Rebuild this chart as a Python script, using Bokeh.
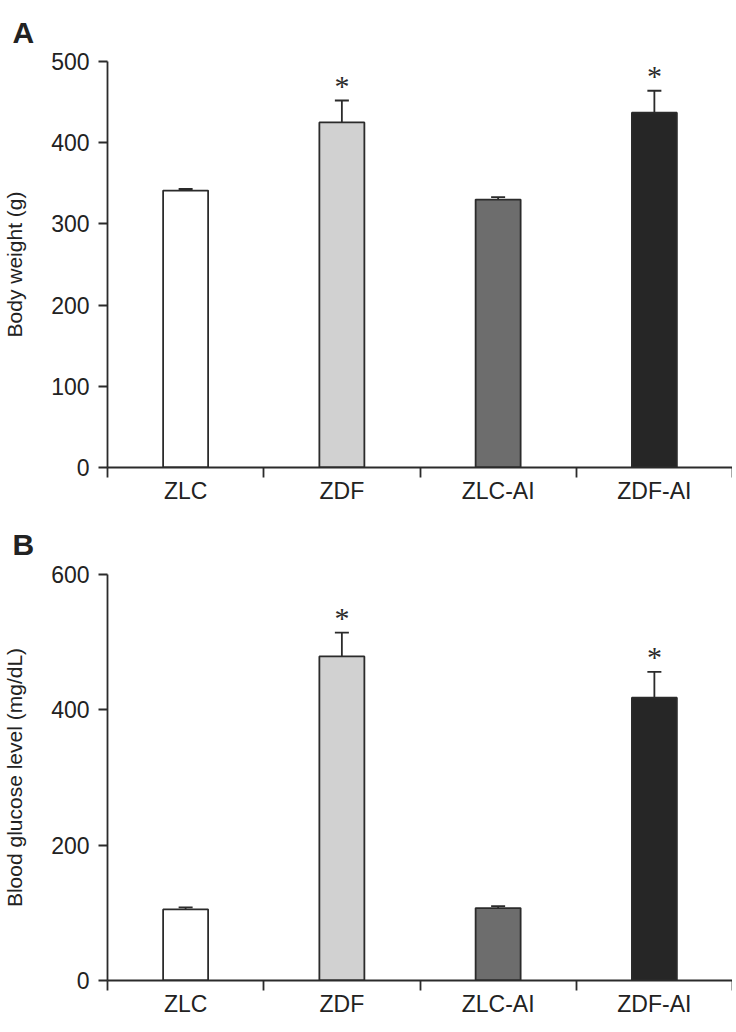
from bokeh.plotting import figure
from bokeh.models import ColumnDataSource, Whisker, TeeHead, FixedTicker, Range1d
from bokeh.layouts import column
from bokeh.embed import file_html
from bokeh.resources import INLINE

# ---- data ----
groups = ["ZLC", "ZDF", "ZLC-AI", "ZDF-AI"]
bar_colors = ["#ffffff", "#d1d1d1", "#6d6d6d", "#262626"]
weight_mean = [341, 425, 330, 437]
weight_sem = [2, 27, 3, 27]
glucose_mean = [105, 479, 107, 418]
glucose_sem = [3, 35, 3, 38]
significant = ["", "*", "", "*"]
weight_ticks = [0, 100, 200, 300, 400, 500]
glucose_ticks = [0, 200, 400, 600]

FONT = "Liberation Sans"
INK = "#2b2b2b"
FRAME_W = 625
FRAME_H = 406


def panel(letter, means, sems, ymax, yticks, ylabel, top_border, bottom_border,
          letter_standoff):
    xs = [i + 0.5 for i in range(len(groups))]
    src = ColumnDataSource(dict(
        x=xs, top=means,
        upper=[m + s for m, s in zip(means, sems)],
        color=bar_colors, star=significant,
    ))
    p = figure(frame_width=FRAME_W, frame_height=FRAME_H,
               x_range=Range1d(0, len(groups)), y_range=Range1d(0, ymax),
               output_backend="svg", toolbar_location=None,
               min_border_left=95, min_border_right=0,
               min_border_top=top_border, min_border_bottom=bottom_border,
               background_fill_color="white", border_fill_color="white")
    p.outline_line_color = None
    p.grid.visible = False

    p.vbar(x="x", top="top", bottom=0, width=0.288, source=src,
           fill_color="color", line_color=INK, line_width=1.8)
    wh = Whisker(source=src, base="x", lower="top", upper="upper",
                 line_color=INK, line_width=1.8,
                 upper_head=TeeHead(size=14, line_color=INK, line_width=1.8),
                 lower_head=None)
    p.add_layout(wh)
    p.text(x="x", y="upper", text="star", source=src,
           text_align="center", text_baseline="alphabetic", y_offset=-15,
           text_font_size="30px", text_color=INK, text_font=FONT)

    # x axis: labels at centres, ticks at category boundaries
    xa = p.xaxis[0]
    xa.ticker = FixedTicker(ticks=xs, minor_ticks=list(range(len(groups) + 1)))
    xa.major_label_overrides = {x: g for x, g in zip(xs, groups)}
    xa.major_tick_out = 0
    xa.major_tick_in = 0
    xa.minor_tick_out = 10
    xa.minor_tick_in = 0
    xa.minor_tick_line_color = INK
    xa.minor_tick_line_width = 1.8
    xa.axis_line_color = INK
    xa.axis_line_width = 1.8
    xa.major_label_standoff = 0
    xa.major_label_text_font = FONT
    xa.major_label_text_font_size = "23px"
    xa.major_label_text_color = "#222222"

    ya = p.yaxis[0]
    ya.ticker = FixedTicker(ticks=yticks, minor_ticks=[])
    ya.major_tick_out = 9
    ya.major_tick_in = 0
    ya.major_tick_line_color = INK
    ya.major_tick_line_width = 1.8
    ya.axis_line_color = INK
    ya.axis_line_width = 1.8
    ya.major_label_standoff = 9
    ya.major_label_text_font = FONT
    ya.major_label_text_font_size = "23px"
    ya.major_label_text_color = "#222222"
    ya.axis_label = ylabel
    ya.axis_label_text_font = FONT
    ya.axis_label_text_font_size = "21px"
    ya.axis_label_text_font_style = "normal"
    ya.axis_label_text_color = "#222222"
    ya.axis_label_standoff = 22

    p.title.text = letter
    p.title.text_font = FONT
    p.title.text_font_size = "30px"
    p.title.text_font_style = "bold"
    p.title.text_color = "#222222"
    p.title.align = "left"
    p.title.offset = -95
    p.title.standoff = letter_standoff
    return p


pA = panel("A", weight_mean, weight_sem, 500, weight_ticks,
           "Body weight (g)", 61, 44, 25)
pB = panel("B", glucose_mean, glucose_sem, 600, glucose_ticks,
           "Blood glucose level (mg/dL)", 63, 36, 27)

layout = column(pA, pB, spacing=0)
open("out.html", "w").write(file_html(layout, INLINE))
